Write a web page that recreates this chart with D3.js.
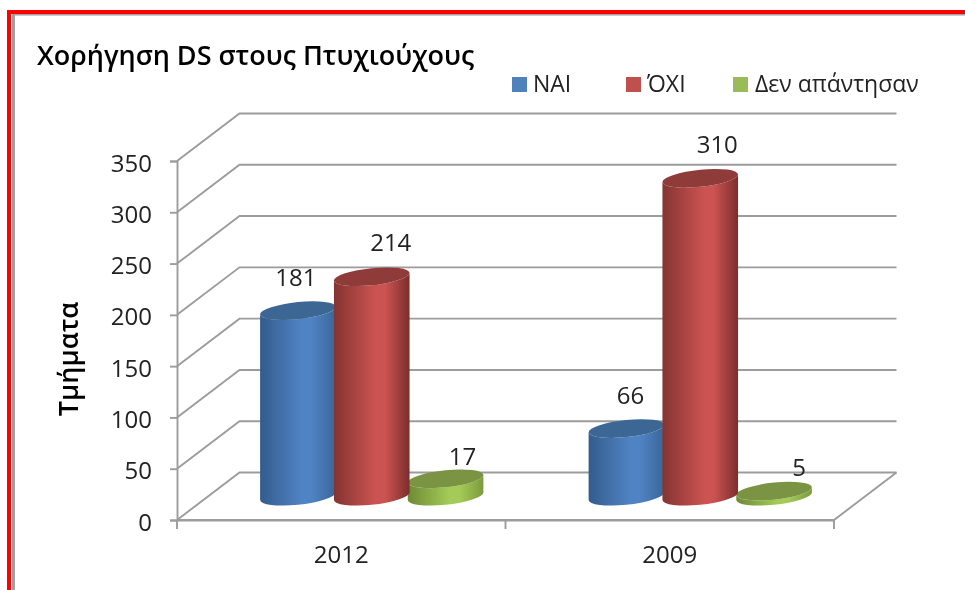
<!DOCTYPE html>
<html lang="el"><head><meta charset="utf-8">
<style>html,body{margin:0;padding:0;background:#fff;overflow:hidden}svg{display:block;filter:blur(0.4px)}text{font-family:"Open Sans","Noto Sans",sans-serif;fill:#222}</style>
<script src="https://cdn.jsdelivr.net/npm/d3@7"></script></head><body>
<script>
const titleText = "Χορήγηση DS στους Πτυχιούχους";
const yTitle = "Τμήματα";
const categories = ["2012", "2009"];
const seriesNames = ["ΝΑΙ", "ΌΧΙ", "Δεν απάντησαν"];
const valuesNai = [181, 66];
const valuesOxi = [214, 310];
const valuesNone = [17, 5];
const yTicks = [0, 50, 100, 150, 200, 250, 300, 350];

const seriesValues = [valuesNai, valuesOxi, valuesNone];
const palette = [
  {top:"#3c6795", dark:"#335c8c", mid:"#5083c4", end:"#3a6698", legend:"#4f81bd"},
  {top:"#8f3b39", dark:"#843432", mid:"#cb5351", end:"#7a2e2d", legend:"#c0504d"},
  {top:"#7a9443", dark:"#6d8a35", mid:"#a4cb58", end:"#7c9b3d", legend:"#9bbb59"}
];
// label offsets from each cylinder's top, [series][category]
const labelNudge = [[[-2,-25],[4,-25]],[[19,-26],[17,-25]],[[17,-14],[25,-15]]];

const W=965,H=590;
const svg=d3.select("body").append("svg").attr("width",W).attr("height",H);
const defs=svg.append("defs");
palette.forEach((p,i)=>{
  const g=defs.append("linearGradient").attr("id","cyl"+i);
  [[0,p.dark],[.55,p.mid],[.68,p.mid],[1,p.end]].forEach(s=>g.append("stop").attr("offset",s[0]).attr("stop-color",s[1]));
});

// frame
svg.append("rect").attr("x",7).attr("y",10).attr("width",W).attr("height",4).attr("fill","#f00");
svg.append("rect").attr("x",7).attr("y",10).attr("width",4).attr("height",H).attr("fill","#f00");
svg.append("rect").attr("x",12).attr("y",14).attr("width",W).attr("height",1.5).attr("fill","#a0a0a0");
svg.append("rect").attr("x",12).attr("y",14).attr("width",3).attr("height",H).attr("fill","#a0a0a0");

// scales: front plane, depth offset to back wall
const y=d3.scaleLinear().domain([0,350]).range([520,161]);
const xFront=d3.scaleBand().domain(categories).range([177,834]);
const depthX=62.5, depthY=47.5;
const inner=d3.scaleBand().domain(seriesNames).range([-111.5,110]);
const gridC="#9c9c9c", gridW=1.9;

// walls and gridlines
svg.append("g").selectAll("path").data(yTicks).join("path")
  .attr("fill","none").attr("stroke",gridC).attr("stroke-width",gridW)
  .attr("d",v=>d3.line()([[177,y(v)],[177+depthX,y(v)-depthY],[834+depthX,y(v)-depthY]]));
svg.append("path").attr("fill","none").attr("stroke",gridC).attr("stroke-width",gridW)
  .attr("d",d3.line()([[177,y(0)],[834,y(0)],[834+depthX,y(0)-depthY]]));

// axes
const gy=svg.append("g").attr("transform","translate(177,0)")
  .call(d3.axisLeft(y).tickValues(yTicks).tickSize(7).tickPadding(18));
gy.selectAll("text").style("font-size","24px").attr("dy","0.42em");
const gx=svg.append("g").attr("transform","translate(0,520)")
  .call(d3.axisBottom(xFront).tickSize(0).tickPadding(26));
gx.selectAll("text").style("font-size","24px");
[xFront("2012"),xFront("2009"),xFront("2009")+xFront.bandwidth()].forEach(x=>
  svg.append("line").attr("x1",x).attr("x2",x).attr("y1",520).attr("y2",529).attr("stroke",gridC).attr("stroke-width",gridW));
svg.selectAll(".domain,.tick line").attr("stroke",gridC).attr("stroke-width",gridW);

// cylinders
const rx=38, ry=8.5, rot=-6, rad=rot*Math.PI/180;
const tipX=Math.sqrt(rx*rx*Math.cos(rad)**2+ry*ry*Math.sin(rad)**2);
const tipY=(rx*rx-ry*ry)*Math.sin(rad)*Math.cos(rad)/tipX;
const baseY=v=>y(v)-depthY/2;
function ell(cx,cy){return `M${cx-tipX},${cy-tipY}A${rx},${ry} ${rot} 1 1 ${cx+tipX},${cy+tipY}A${rx},${ry} ${rot} 1 1 ${cx-tipX},${cy-tipY}Z`;}
function body(cx,top,bot){return `M${cx-tipX},${top-tipY}L${cx-tipX},${bot-tipY}A${rx},${ry} ${rot} 0 0 ${cx+tipX},${bot+tipY}L${cx+tipX},${top+tipY}A${rx},${ry} ${rot} 0 1 ${cx-tipX},${top-tipY}Z`;}
const bars=svg.append("g");
[0,2,1].forEach(s=>{
  categories.forEach((c,k)=>{
    const v=seriesValues[s][k];
    const cx=xFront(c)+xFront.bandwidth()/2+depthX/2+inner(seriesNames[s])+inner.bandwidth()/2;
    const bot=baseY(0), top=baseY(v);
    bars.append("path").attr("d",body(cx,top,bot)).attr("fill",`url(#cyl${s})`);
    bars.append("path").attr("d",ell(cx,top)).attr("fill",palette[s].top);
    svg.append("text").attr("class","lab").attr("x",cx+labelNudge[s][k][0]).attr("y",top+labelNudge[s][k][1])
      .attr("text-anchor","middle").style("font-size","24px").text(v);
  });
});

// title
svg.append("text").attr("x",37).attr("y",65).style("font-size","27px").style("font-weight",600).style("fill","#000").text(titleText);
svg.append("text").attr("transform","translate(78,359) rotate(-90)").attr("text-anchor","middle")
  .style("font-size","27px").style("font-weight",600).style("fill","#000").text(yTitle);

// legend
const legX=[512,626,733], legTextX=[533,647,755];
seriesNames.forEach((n,i)=>{
  svg.append("rect").attr("x",legX[i]).attr("y",77).attr("width",15).attr("height",15).attr("fill",palette[i].legend);
  svg.append("text").attr("x",legTextX[i]).attr("y",92).style("font-size","23px").text(n);
});
</script></body></html>
